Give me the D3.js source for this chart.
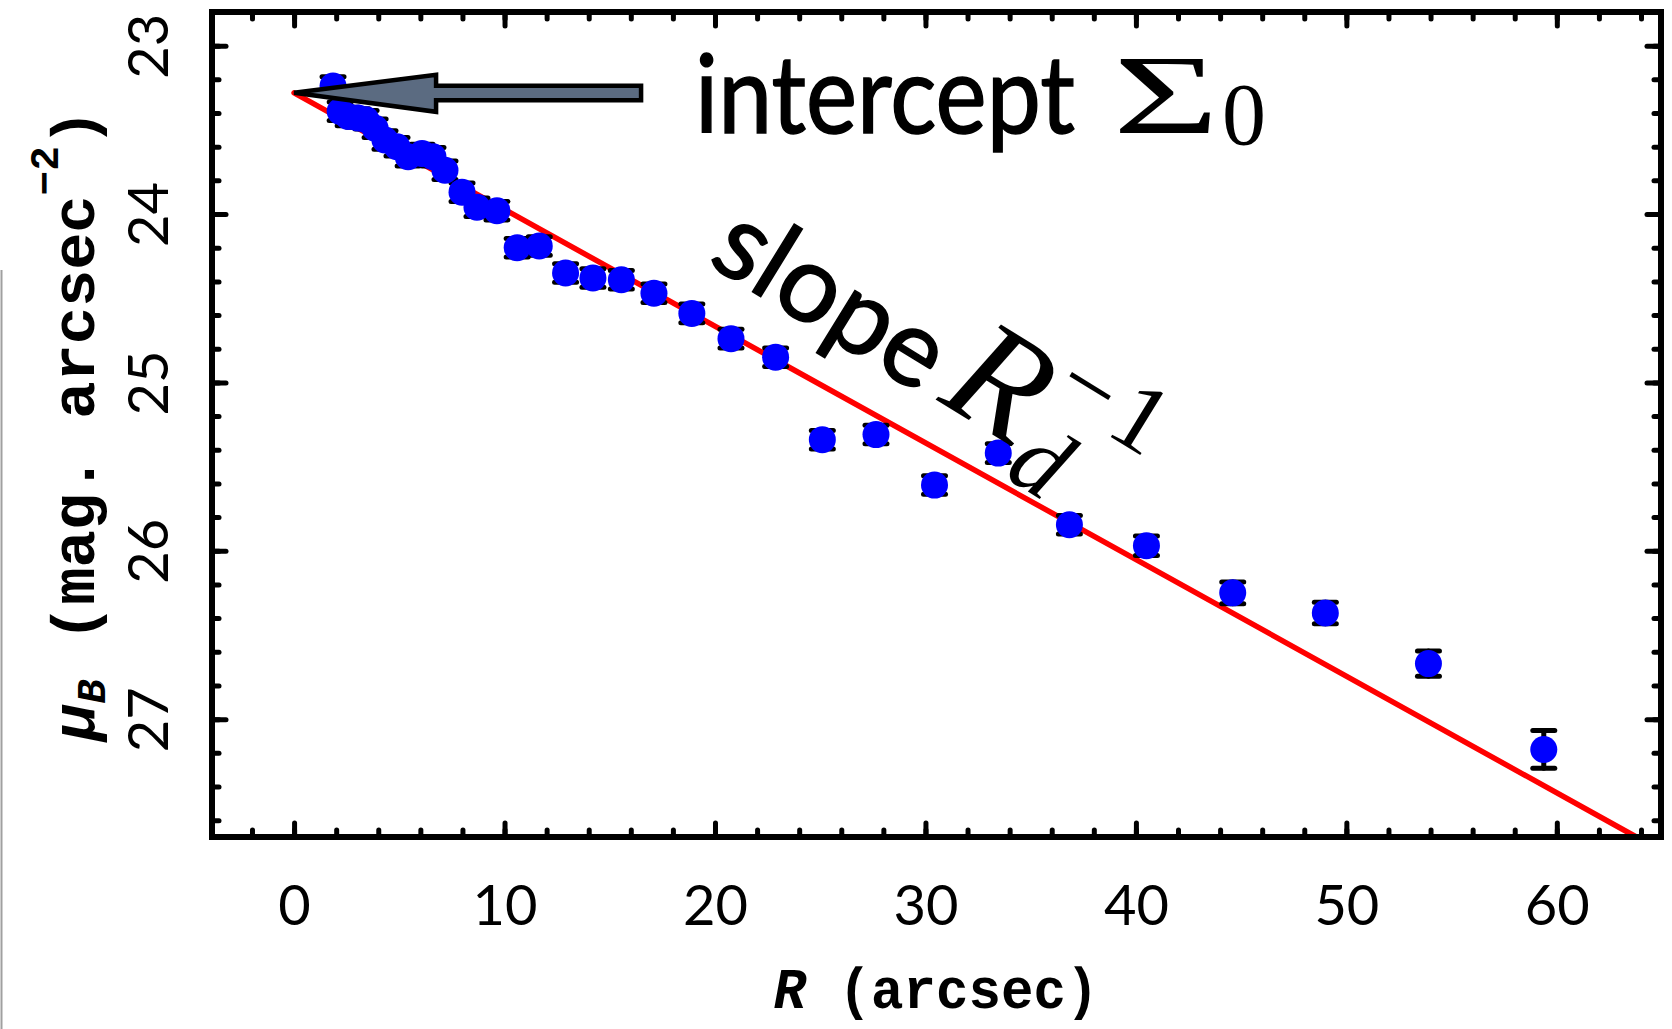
<!DOCTYPE html>
<html>
<head>
<meta charset="utf-8">
<script src="https://cdn.jsdelivr.net/npm/d3@7"></script>
<style>
  html, body { margin: 0; padding: 0; background: #fff; }
  svg { display: block; }
</style>
</head>
<body>
<div id="chart"></div>
<script>
// surface brightness profile
const radius = [1.85, 2.19, 2.57, 3.04, 3.42, 3.85, 4.32, 4.89, 5.42, 6.08, 6.60, 7.17, 7.98, 8.69, 9.64,
                10.6, 11.65, 12.9, 14.2, 15.55, 17.1, 18.9, 20.76, 22.88, 25.1, 27.65, 30.43, 33.46,
                36.84, 40.5, 44.6, 49.0, 53.9, 59.38];
const muB = [23.24, 23.39, 23.42, 23.43, 23.44, 23.49, 23.56, 23.60, 23.66, 23.64, 23.66, 23.74, 23.87, 23.96, 23.98,
             24.20, 24.19, 24.35, 24.38, 24.39, 24.47, 24.59, 24.74, 24.85, 25.34, 25.31, 25.61, 25.42,
             25.845, 25.97, 26.25, 26.37, 26.67, 27.18];
const muErr = [0.055, 0.055, 0.055, 0.055, 0.055, 0.055, 0.055, 0.055, 0.055, 0.055, 0.055, 0.055, 0.055, 0.055, 0.055,
               0.055, 0.055, 0.055, 0.055, 0.055, 0.055, 0.055, 0.055, 0.055, 0.055, 0.055, 0.055, 0.055,
               0.055, 0.058, 0.064, 0.064, 0.075, 0.112];

// exponential disc fit: intercept and slope (mag per arcsec)
const fitIntercept = 23.28;
const fitSlope = 0.0693;

const xDomain = [-3.9, 64.95];
const yDomain = [22.8, 27.7];
const xMajor = [0, 10, 20, 30, 40, 50, 60];
const xMinor = d3.range(-2, 65, 2);
const yMajor = [23, 24, 25, 26, 27];
const yMinor = d3.range(23.0, 27.61, 0.2).map(d => +d.toFixed(1));

document.addEventListener("DOMContentLoaded", function () {

    const width = 1672, height = 1029;
    const left = 212, right = 1661, top = 12, bottom = 837;

    const svg = d3.select("#chart").append("svg")
        .attr("width", width)
        .attr("height", height);

    const x = d3.scaleLinear().domain(xDomain).range([left, right]);
    const y = d3.scaleLinear().domain(yDomain).range([top, bottom]);

    // thin grey edge on the far left of the original
    svg.append("line")
        .attr("x1", 1.5).attr("x2", 1.5)
        .attr("y1", 270).attr("y2", height)
        .attr("stroke", "#a0a0a0").attr("stroke-width", 2);

    // fitted line, stopped at the bottom of the frame
    const xEnd = (yDomain[1] - fitIntercept) / fitSlope;
    svg.append("line")
        .attr("x1", x(0)).attr("y1", y(fitIntercept))
        .attr("x2", x(xEnd)).attr("y2", y(fitIntercept + fitSlope * xEnd))
        .attr("stroke", "#ff0000")
        .attr("stroke-width", 5.5)
        .attr("stroke-linecap", "round");

    const points = radius.map((r, i) => ({ r: r, mu: muB[i], err: muErr[i] }));

    // error bars under the dots
    const eb = svg.append("g")
        .attr("stroke", "#000")
        .attr("stroke-width", 5)
        .attr("stroke-linecap", "round");
    points.forEach(p => {
        const cx = x(p.r);
        eb.append("line").attr("x1", cx).attr("x2", cx)
            .attr("y1", y(p.mu - p.err)).attr("y2", y(p.mu + p.err));
        [p.mu - p.err, p.mu + p.err].forEach(v => {
            eb.append("line").attr("x1", cx - 11).attr("x2", cx + 11)
                .attr("y1", y(v)).attr("y2", y(v));
        });
    });

    svg.append("g").selectAll("circle")
        .data(points)
        .enter().append("circle")
        .attr("cx", d => x(d.r))
        .attr("cy", d => y(d.mu))
        .attr("r", 13.5)
        .attr("fill", "#0000ff");

    // arrow pointing at the intercept
    const tipX = x(0), tipY = y(fitIntercept);
    const arrow = [[0, 0], [142, -18], [142, -7], [347, -7], [347, 7.5], [142, 7.5], [142, 19]];
    svg.append("path")
        .attr("d", d3.line()(arrow.map(d => [tipX + d[0], tipY + d[1]])) + "Z")
        .attr("fill", "#5b6b81")
        .attr("stroke", "#000")
        .attr("stroke-width", 4.5)
        .attr("stroke-linejoin", "miter");

    // "intercept Σ0"
    svg.append("text")
        .attr("x", 695).attr("y", 133)
        .attr("font-family", "Lato, sans-serif")
        .attr("font-size", 108)
        .attr("stroke", "#000").attr("stroke-width", 1.5)
        .attr("textLength", 380)
        .attr("lengthAdjust", "spacingAndGlyphs")
        .text("intercept");
    svg.append("text")
        .attr("x", 1113).attr("y", 133)
        .attr("font-family", "'Liberation Serif', serif")
        .attr("font-size", 112)
        .attr("textLength", 106)
        .attr("lengthAdjust", "spacingAndGlyphs")
        .text("Σ");
    svg.append("text")
        .attr("x", 1222).attr("y", 144)
        .attr("font-family", "'Liberation Serif', serif")
        .attr("font-size", 88)
        .text("0");

    // "slope R_d^-1", tilted
    const sl = svg.append("g").attr("transform", "translate(706,263) rotate(31.6)");
    sl.append("text")
        .attr("font-family", "Lato, sans-serif")
        .attr("font-size", 108)
        .attr("stroke", "#000").attr("stroke-width", 1.5)
        .text("slope");
    sl.append("text")
        .attr("x", 268).attr("y", -4)
        .attr("font-family", "'Liberation Serif', serif")
        .attr("font-style", "italic")
        .attr("font-size", 150)
        .text("R");
    sl.append("text")
        .attr("x", 364).attr("y", 26)
        .attr("font-family", "'Liberation Serif', serif")
        .attr("font-style", "italic")
        .attr("font-size", 100)
        .text("d");
    const sup = sl.append("text")
        .attr("x", 364).attr("y", -64)
        .attr("font-family", "'Liberation Serif', serif")
        .attr("font-size", 98);
    sup.append("tspan").text("−");
    sup.append("tspan").attr("dx", 8).text("1");

    // axes: ticks point inward on all four sides
    function styleTicks(g) {
        g.select(".domain").remove();
        g.selectAll(".tick line")
            .attr("stroke", "#000")
            .attr("stroke-width", 5)
            .attr("stroke-linecap", "round");
    }

    const gx = svg.append("g").attr("transform", `translate(0,${bottom})`)
        .call(d3.axisBottom(x).tickValues(xMajor).tickSize(-14).tickFormat(d3.format("d")))
        .call(styleTicks);
    gx.selectAll(".tick text")
        .attr("y", 88).attr("dy", null)
        .attr("font-family", "Lato, sans-serif")
        .attr("font-size", 56)
        .attr("fill", "#000");
    svg.append("g").attr("transform", `translate(0,${bottom})`)
        .call(d3.axisBottom(x).tickValues(xMinor).tickSize(-7).tickFormat(""))
        .call(styleTicks);
    svg.append("g").attr("transform", `translate(0,${top})`)
        .call(d3.axisTop(x).tickValues(xMajor).tickSize(-14).tickFormat(""))
        .call(styleTicks);
    svg.append("g").attr("transform", `translate(0,${top})`)
        .call(d3.axisTop(x).tickValues(xMinor).tickSize(-7).tickFormat(""))
        .call(styleTicks);

    const gy = svg.append("g").attr("transform", `translate(${left},0)`)
        .call(d3.axisLeft(y).tickValues(yMajor).tickSize(-14).tickFormat(d3.format("d")))
        .call(styleTicks);
    gy.selectAll(".tick text")
        .attr("x", null).attr("dy", null)
        .attr("transform", "translate(-44,0) rotate(-90)")
        .attr("text-anchor", "middle")
        .attr("font-family", "Lato, sans-serif")
        .attr("font-size", 56)
        .attr("fill", "#000");
    svg.append("g").attr("transform", `translate(${left},0)`)
        .call(d3.axisLeft(y).tickValues(yMinor).tickSize(-7).tickFormat(""))
        .call(styleTicks);
    svg.append("g").attr("transform", `translate(${right},0)`)
        .call(d3.axisRight(y).tickValues(yMajor).tickSize(-14).tickFormat(""))
        .call(styleTicks);
    svg.append("g").attr("transform", `translate(${right},0)`)
        .call(d3.axisRight(y).tickValues(yMinor).tickSize(-7).tickFormat(""))
        .call(styleTicks);

    // frame
    svg.append("rect")
        .attr("x", left).attr("y", top)
        .attr("width", right - left).attr("height", bottom - top)
        .attr("fill", "none")
        .attr("stroke", "#000")
        .attr("stroke-width", 6);

    // axis titles
    const xt = svg.append("text")
        .attr("x", 936).attr("y", 1008)
        .attr("text-anchor", "middle")
        .attr("font-family", "'Liberation Mono', monospace")
        .attr("font-weight", "bold")
        .attr("font-size", 58)
        .attr("textLength", 325)
        .attr("lengthAdjust", "spacingAndGlyphs");
    xt.append("tspan").attr("font-style", "italic").text("R");
    xt.append("tspan").text(" (arcsec)");

    const yt = svg.append("text")
        .attr("transform", "translate(94,425) rotate(-90)")
        .attr("text-anchor", "middle")
        .attr("font-family", "'Liberation Mono', monospace")
        .attr("font-weight", "bold")
        .attr("font-size", 62);
    yt.append("tspan").attr("font-style", "italic").text("μ");
    yt.append("tspan").attr("font-style", "italic").attr("font-size", 41).attr("dy", 11).text("B");
    yt.append("tspan").attr("dy", -11).text(" (mag. arcsec");
    yt.append("tspan").attr("font-size", 41).attr("dy", -36).text("−2");
    yt.append("tspan").attr("dy", 36).text(")");
});
</script>
</body>
</html>
